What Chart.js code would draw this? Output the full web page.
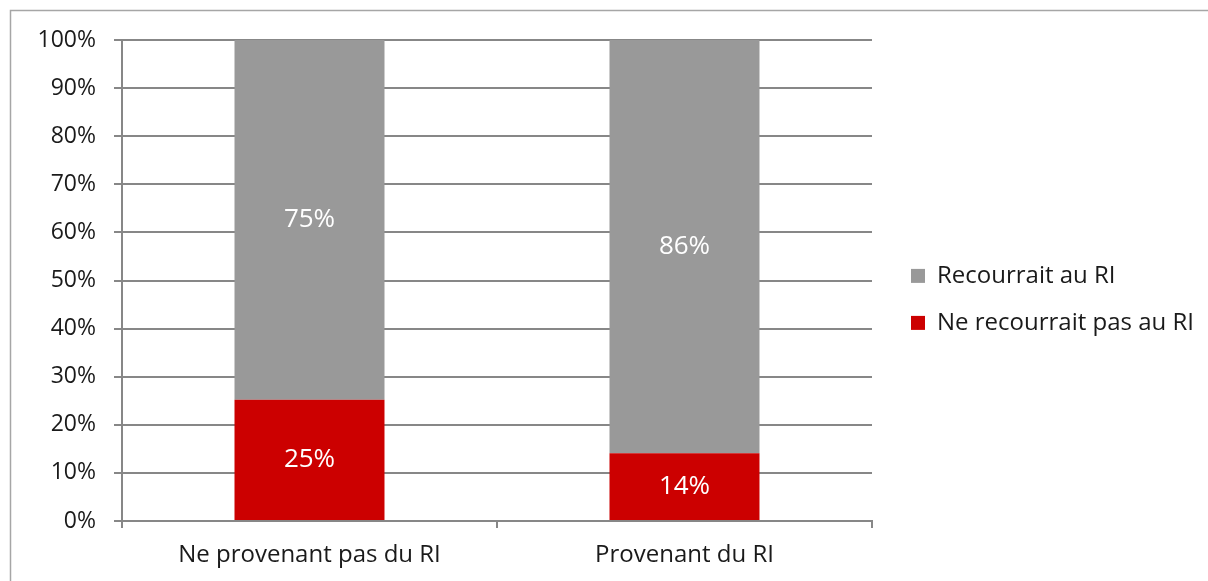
<!DOCTYPE html>
<html>
<head>
<meta charset="utf-8">
<script src="https://cdn.jsdelivr.net/npm/chart.js@4/dist/chart.umd.min.js"></script>
<style>
    body { margin: 0; background: #fff; }
    #wrap { position: relative; width: 1208px; height: 581px; }
</style>
</head>
<body>
<div id="wrap"><canvas id="ri_chart" width="1208" height="581"></canvas></div>
<script>
// data
const categories = ['Ne provenant pas du RI', 'Provenant du RI'];
const nonRecours = [25.2, 14.1];
const recours = [74.8, 85.9];
const yTicks = [0, 10, 20, 30, 40, 50, 60, 70, 80, 90, 100];

const FONT = '"Open Sans", "Noto Sans", sans-serif';
const GRID = '#878787';

// white page + grey frame like the original excel export
const framePlugin = {
    id: 'frame',
    beforeDraw(chart) {
        const c = chart.ctx;
        c.save();
        c.fillStyle = '#fff';
        c.fillRect(0, 0, chart.width, chart.height);
        c.strokeStyle = '#a6a6a6';
        c.lineWidth = 1.5;
        c.strokeRect(10.5, 10.5, 1400, 800);
        c.restore();
    }
};

// value labels in the middle of each segment
const valuePlugin = {
    id: 'values',
    afterDatasetsDraw(chart) {
        const c = chart.ctx;
        c.save();
        c.fillStyle = '#ffffff';
        c.font = '26px ' + FONT;
        c.textAlign = 'center';
        c.textBaseline = 'middle';
        chart.data.datasets.forEach((ds, i) => {
            chart.getDatasetMeta(i).data.forEach((bar, j) => {
                const mid = (bar.y + bar.base) / 2;
                c.fillText(Math.round(ds.data[j]) + '%', bar.x, mid);
            });
        });
        c.restore();
    }
};

const ctx = document.getElementById('ri_chart');
new Chart(ctx, {
    type: 'bar',
    data: {
        labels: categories,
        datasets: [{
            label: 'Ne recourrait pas au RI',
            data: nonRecours,
            backgroundColor: '#cc0000',
            categoryPercentage: 1,
            barPercentage: 0.4
        }, {
            label: 'Recourrait au RI',
            data: recours,
            backgroundColor: '#999999',
            categoryPercentage: 1,
            barPercentage: 0.4
        }]
    },
    options: {
        responsive: false,
        animation: false,
        layout: {
            padding: { left: 20, top: 40, right: 4, bottom: 10 }
        },
        plugins: {
            tooltip: { enabled: false },
            legend: {
                position: 'right',
                fullSize: false,
                reverse: true,
                maxWidth: 330,
                // empty title, just pushes the items down a bit
                title: {
                    display: true,
                    text: '',
                    font: { family: FONT, size: 24 },
                    padding: { top: 0, bottom: 9 }
                },
                labels: {
                    color: '#1a1a1a',
                    boxWidth: 14,
                    boxHeight: 14,
                    padding: 23,
                    font: { family: FONT, size: 24 }
                }
            }
        },
        scales: {
            x: {
                stacked: true,
                afterFit(scale) {
                    scale.height = 50;
                },
                grid: {
                    offset: true,
                    drawOnChartArea: false,
                    color: GRID,
                    tickLength: 7,
                    lineWidth: 2
                },
                border: { color: GRID, width: 2 },
                ticks: {
                    color: '#1a1a1a',
                    padding: 13,
                    font: { family: FONT, size: 24 }
                }
            },
            y: {
                stacked: true,
                min: 0,
                max: 100,
                afterBuildTicks(scale) {
                    scale.ticks = yTicks.map(v => ({ value: v }));
                },
                afterFit(scale) {
                    scale.width = 102;
                },
                grid: {
                    color: GRID,
                    lineWidth: 2,
                    tickLength: 8
                },
                border: { color: GRID, width: 2 },
                ticks: {
                    color: '#1a1a1a',
                    padding: 18,
                    font: { family: FONT, size: 23 },
                    callback: v => v + '%'
                }
            },
            // empty axis, only there to leave a gap before the legend
            gap: {
                type: 'linear',
                position: 'right',
                grid: { display: false },
                border: { display: false },
                ticks: { display: false },
                afterFit(scale) {
                    scale.width = 16;
                }
            }
        }
    },
    plugins: [framePlugin, valuePlugin]
});
</script>
</body>
</html>
